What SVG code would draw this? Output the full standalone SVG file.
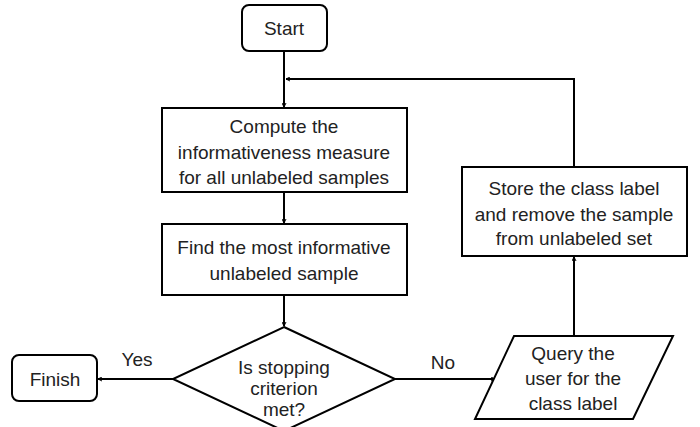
<svg xmlns="http://www.w3.org/2000/svg" width="700" height="427" viewBox="0 0 700 427">
<style>
.n{fill:#fff;stroke:#000;stroke-width:2}
.t{font-family:"Liberation Sans",Arial,sans-serif;font-size:19px;fill:#222;text-anchor:middle}
.c{fill:none;stroke:#000;stroke-width:2}
</style>
<defs>
<marker id="a" viewBox="0 0 10 10" refX="9" refY="5" markerWidth="5" markerHeight="5" orient="auto" markerUnits="userSpaceOnUse">
<path d="M1,1 L9,5 L1,9" fill="none" stroke="#000" stroke-width="2"/>
</marker>
</defs>
<rect width="700" height="427" fill="#fff"/>
<g id="connectors">
<line class="c" x1="284" y1="51" x2="284" y2="107" marker-end="url(#a)"/>
<polyline class="c" points="574,166 574,79 286,79" marker-end="url(#a)"/>
<line class="c" x1="284" y1="192" x2="284" y2="223" marker-end="url(#a)"/>
<line class="c" x1="284" y1="295" x2="284" y2="326" marker-end="url(#a)"/>
<line class="c" x1="173" y1="379" x2="98" y2="379" marker-end="url(#a)"/>
<line class="c" x1="395" y1="379" x2="495" y2="379" marker-end="url(#a)"/>
<line class="c" x1="574" y1="336" x2="574" y2="257" marker-end="url(#a)"/>
<text class="t" x="137" y="366">Yes</text>
<text class="t" x="443" y="369">No</text>
</g>
<g id="start">
<rect class="n" x="242" y="5" width="85" height="46" rx="7"/>
<text class="t" x="284" y="35">Start</text>
</g>
<g id="compute">
<rect class="n" x="162" y="108" width="245" height="84"/>
<text class="t" x="284" y="133">Compute the</text>
<text class="t" x="284" y="159">informativeness measure</text>
<text class="t" x="284" y="184">for all unlabeled samples</text>
</g>
<g id="find">
<rect class="n" x="162" y="224" width="245" height="71"/>
<text class="t" x="284" y="254">Find the most informative</text>
<text class="t" x="284" y="280">unlabeled sample</text>
</g>
<g id="decision">
<polygon class="n" points="284,327 395,379 284,431 173,379"/>
<text class="t" x="284" y="374">Is stopping</text>
<text class="t" x="284" y="395">criterion</text>
<text class="t" x="284" y="416">met?</text>
</g>
<g id="finish">
<rect class="n" x="12" y="355" width="85" height="46" rx="7"/>
<text class="t" x="55" y="386">Finish</text>
</g>
<g id="query">
<polygon class="n" points="514,336 673,336 633,419 475,419"/>
<text class="t" x="573" y="360">Query the</text>
<text class="t" x="573" y="385">user for the</text>
<text class="t" x="573" y="410">class label</text>
</g>
<g id="store">
<rect class="n" x="462" y="167" width="225" height="89"/>
<text class="t" x="574" y="195">Store the class label</text>
<text class="t" x="574" y="221">and remove the sample</text>
<text class="t" x="574" y="245">from unlabeled set</text>
</g>
</svg>
